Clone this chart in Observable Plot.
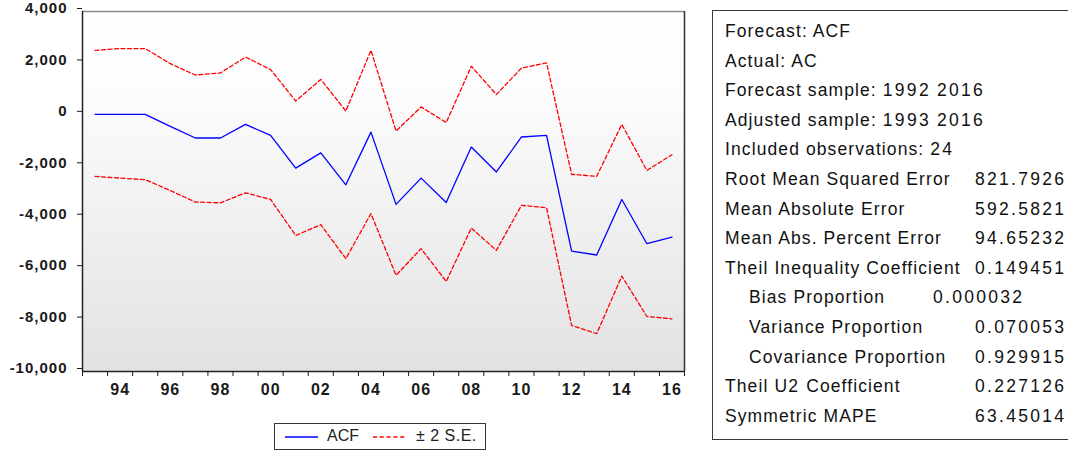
<!DOCTYPE html>
<html>
<head>
<meta charset="utf-8">
<script src="https://cdn.jsdelivr.net/npm/d3@7"></script>
<script src="https://cdn.jsdelivr.net/npm/@observablehq/plot@0.6"></script>
<style>
  html, body { margin: 0; padding: 0; background: #fff; }
  body { width: 1068px; height: 454px; overflow: hidden; position: relative; font-family: Arial, "Liberation Sans", sans-serif; }
  #chart { position: absolute; left: 0; top: 0; }
  #legend { position: absolute; left: 274px; top: 423px; width: 212px; height: 27px; border: 1.5px solid #333; box-sizing: border-box; background: #fff; }
  #stats { position: absolute; left: 712px; top: 10px; width: 420px; height: 430px; border: 1.5px solid #3a3a3a; box-sizing: border-box; }
  .row { position: absolute; font-size: 17.5px; line-height: 20px; color: #111; letter-spacing: 1.1px; white-space: nowrap; }
  .num { letter-spacing: 2.3px; }
  .lg { position: absolute; font-size: 16px; line-height: 18px; color: #222; white-space: nowrap; }
</style>
</head>
<body>
<div id="chart"></div>
<div id="legend"></div>
<div id="stats"></div>
<script>
const years = [1993,1994,1995,1996,1997,1998,1999,2000,2001,2002,2003,2004,2005,2006,2007,2008,2009,2010,2011,2012,2013,2014,2015,2016];
const acf   = [0,0,0,-470,-920,-920,-390,-820,-2090,-1500,-2740,-690,-3500,-2480,-3430,-1270,-2240,-880,-820,-5320,-5470,-3310,-5030,-4770];
const upper = [2490,2560,2560,1970,1530,1610,2230,1740,520,1360,130,2490,-650,290,-320,1870,770,1800,2000,-2330,-2410,-390,-2180,-1570];
const lower = [-2410,-2480,-2540,-2960,-3410,-3440,-3050,-3310,-4710,-4290,-5610,-3860,-6260,-5220,-6500,-4420,-5290,-3540,-3630,-8210,-8530,-6290,-7860,-7950];
const yTicks = [-10000,-8000,-6000,-4000,-2000,0,2000,4000];
const xLabelYears = [1994,1996,1998,2000,2002,2004,2006,2008,2010,2012,2014,2016];
const seriesNames = ["ACF", "± 2 S.E."];
const statLabels = ["Forecast: ACF","Actual: AC","Forecast sample: 1992 2016","Adjusted sample: 1993 2016","Included observations: 24","Root Mean Squared Error","Mean Absolute Error","Mean Abs. Percent Error","Theil Inequality Coefficient","Bias Proportion","Variance Proportion","Covariance Proportion","Theil U2 Coefficient","Symmetric MAPE"];
const statValues = ["","","","","","821.7926","592.5821","94.65232","0.149451","0.000032","0.070053","0.929915","0.227126","63.45014"];
const statIndent = [0,0,0,0,0,0,0,0,0,1,1,1,0,0];

const data = years.map((y, i) => ({year: y, acf: acf[i], upper: upper[i], lower: lower[i]}));
const halfTicks = d3.range(1992.5, 2017, 1);
const fmt = d => d3.format(",")(d).replace("\u2212", "-");

const chart = Plot.plot({
  width: 700, height: 400,
  marginLeft: 82, marginRight: 16, marginTop: 11, marginBottom: 29,
  style: {fontFamily: "Arial, 'Liberation Sans', sans-serif", fontSize: "15px", fontWeight: "bold", letterSpacing: "1px", color: "#1a1a1a", background: "transparent"},
  x: {domain: [1992.5, 2016.5]},
  y: {domain: [-10000, 4000]},
  marks: [
    Plot.frame({fill: "url(#bg)", stroke: "none"}),
    Plot.line(data, {x: "year", y: "upper", stroke: "#ff0000", strokeWidth: 1.3, strokeDasharray: "4,2.5"}),
    Plot.line(data, {x: "year", y: "lower", stroke: "#ff0000", strokeWidth: 1.3, strokeDasharray: "4,2.5"}),
    Plot.line(data, {x: "year", y: "acf", stroke: "#0000ff", strokeWidth: 1.3}),
    Plot.ruleY([4000], {stroke: "#8a8a8a", strokeWidth: 1.5}),
    Plot.ruleX([2016.5], {stroke: "#333", strokeWidth: 1.5}),
    Plot.ruleX([1992.5], {stroke: "#222", strokeWidth: 1.5}),
    Plot.ruleY([-10000], {stroke: "#222", strokeWidth: 1.5}),
    Plot.axisY(yTicks, {tickSize: 5, tickPadding: 10, tickFormat: fmt, dy: -3, label: null}),
    Plot.axisX(halfTicks, {tickSize: 5, tickFormat: () => "", label: null}),
    Plot.axisX(xLabelYears, {tickSize: 0, tickPadding: 12, fontSize: 16, tickFormat: d => String(d).slice(2), label: null})
  ]
});

const svg = d3.select(chart);
const grad = svg.insert("defs", ":first-child").append("linearGradient")
  .attr("id", "bg").attr("x1", 0).attr("y1", 0).attr("x2", 0).attr("y2", 1);
grad.append("stop").attr("offset", "0").attr("stop-color", "#ffffff");
grad.append("stop").attr("offset", "0.2").attr("stop-color", "#fdfdfd");
grad.append("stop").attr("offset", "1").attr("stop-color", "#e2e2e2");
document.getElementById("chart").appendChild(chart);

// legend
const legend = document.getElementById("legend");
const lsvg = d3.select(legend).append("svg").attr("width", 210).attr("height", 26)
  .style("position", "absolute").style("left", "0px").style("top", "0px");
lsvg.append("line").attr("x1", 10).attr("x2", 43).attr("y1", 13).attr("y2", 13).attr("stroke", "#0000ff").attr("stroke-width", 1.5);
lsvg.append("line").attr("x1", 98).attr("x2", 132).attr("y1", 13).attr("y2", 13).attr("stroke", "#ff0000").attr("stroke-width", 1.5).attr("stroke-dasharray", "4,2.8");
const l1 = document.createElement("div"); l1.className = "lg"; l1.style.left = "52px"; l1.style.top = "3px"; l1.textContent = seriesNames[0]; legend.appendChild(l1);
const l2 = document.createElement("div"); l2.className = "lg"; l2.style.left = "141px"; l2.style.top = "3px"; l2.style.letterSpacing = "0.5px"; l2.textContent = seriesNames[1]; legend.appendChild(l2);

// stats
const wrapNums = s => s.replace(/(\d[\d.]*)/g, '<span class="num">$1</span>');
statLabels.forEach((lab, i) => {
  const cy = 31 + 29.6 * i;
  const d = document.createElement("div");
  d.className = "row";
  d.style.left = (statIndent[i] ? 749 : 725) + "px";
  d.style.top = (cy - 10) + "px";
  d.innerHTML = wrapNums(lab);
  document.body.appendChild(d);
  if (statValues[i]) {
    const v = document.createElement("div");
    v.className = "row num";
    v.style.left = (i === 9 ? 933 : 975) + "px";
    v.style.top = (cy - 10) + "px";
    v.textContent = statValues[i];
    document.body.appendChild(v);
  }
});
</script>
</body>
</html>
